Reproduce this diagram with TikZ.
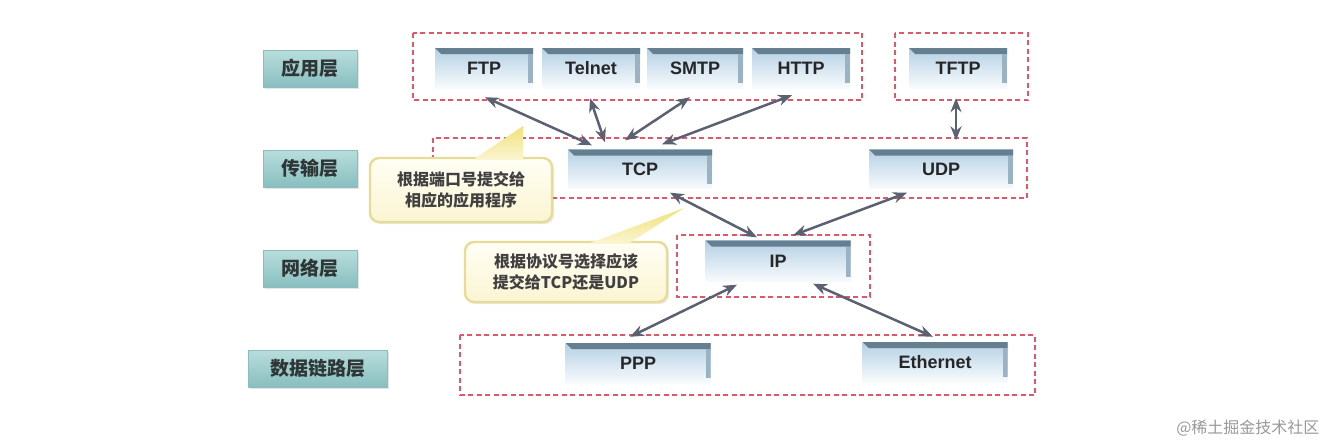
\documentclass[tikz,border=0pt]{standalone}
\usepackage{fontspec}
\setmainfont{Liberation Sans}
\newfontfamily\cjk{Noto Sans CJK SC}
\usetikzlibrary{arrows.meta,shadows,calc}
\definecolor{dashred}{HTML}{E0566A}
\definecolor{laytop}{HTML}{B8DEDC}
\definecolor{laybot}{HTML}{88BEBF}
\definecolor{layedge}{HTML}{8CBDBC}
\definecolor{laytext}{HTML}{2E3636}
\definecolor{prtop}{HTML}{B4D0E4}
\definecolor{prbot}{HTML}{F8FBFD}
\definecolor{bevel}{HTML}{667F90}
\definecolor{side}{HTML}{9AB2C4}
\definecolor{arrowc}{HTML}{5B6170}
\definecolor{cotop}{HTML}{FFFEF4}
\definecolor{cobot}{HTML}{FBF5D2}
\definecolor{coedge}{HTML}{E6DC96}
\definecolor{tailtop}{HTML}{F0E27A}
\definecolor{tailbot}{HTML}{FBF5D2}
\definecolor{cotext}{HTML}{404040}
\tikzset{
  layer/.style={inner sep=0, minimum height=37, top color=laytop, bottom color=laybot,
    draw=layedge, line width=0.8pt,
    font=\cjk\bfseries\fontsize{19}{22}\selectfont, text=laytext,
    drop shadow={opacity=0.2, shadow xshift=2pt, shadow yshift=-2pt}},
  group/.style={draw=dashred, line width=1.6pt, dash pattern=on 5pt off 3.5pt},
  proto/.style={inner sep=0, minimum height=40, top color=prtop, bottom color=prbot,
    font=\bfseries\fontsize{18}{20}\selectfont, text=black!85,
    path picture={
      \fill[bevel] (path picture bounding box.north west) -- (path picture bounding box.north east)
        -- ([yshift=-6pt]path picture bounding box.north east)
        -- ([xshift=6pt,yshift=-6pt]path picture bounding box.north west) -- cycle;
      \fill[side] ([xshift=-5pt,yshift=-6pt]path picture bounding box.north east)
        rectangle ([yshift=5pt]path picture bounding box.south east);
    }},
  link/.style={{Stealth[length=14pt,width=11pt]}-{Stealth[length=14pt,width=11pt]}, line width=2.5pt, draw=arrowc},
  callout/.style={rounded corners=9pt, draw=coedge, line width=2.4pt, top color=cotop, bottom color=cobot,
    font=\cjk\bfseries\fontsize{16}{21}\selectfont, text=cotext, align=center, inner sep=0,
    drop shadow={opacity=0.18, shadow xshift=2pt, shadow yshift=-2pt}},
  tail/.style={top color=tailtop, bottom color=tailbot, draw=none}
}
\begin{document}
\begin{tikzpicture}[x=1pt,y=-1pt]
\useasboundingbox (0,0) rectangle (1329,445);
\fill[white] (0,0) rectangle (1329,445);

% layer labels
\node[layer, minimum width=94] (l1) at (310,68.5) {应用层};
\node[layer, minimum width=94] (l2) at (310,168.5) {传输层};
\node[layer, minimum width=94] (l3) at (310,268.5) {网络层};
\node[layer, minimum width=139] (l4) at (317.5,368.5) {数据链路层};

% dashed groups
\draw[group] (413,33) rectangle (862,100);
\draw[group] (895,33) rectangle (1028,100);
\draw[group] (433,138) rectangle (1027,198);
\draw[group] (677,235) rectangle (870,297);
\draw[group] (460,335) rectangle (1035,395);

% protocol boxes
\node[proto, minimum width=98] (ftp) at (484,68) {FTP};
\node[proto, minimum width=98] (telnet) at (591,68) {Telnet};
\node[proto, minimum width=96] (smtp) at (695,68) {SMTP};
\node[proto, minimum width=98] (http) at (801,68) {HTTP};
\node[proto, minimum width=98] (tftp) at (958,68) {TFTP};
\node[proto, minimum width=144, minimum height=39] (tcp) at (640,169) {TCP};
\node[proto, minimum width=144, minimum height=39] (udp) at (941,169) {UDP};
\node[proto, minimum width=145, minimum height=41] (ip) at (778,261) {IP};
\node[proto, minimum width=145] (ppp) at (638,363) {PPP};
\node[proto, minimum width=145] (eth) at (935,362) {Ethernet};

% connectors
\draw[link] ($(ftp.south)+(1,9)$) -- ($(tcp.north)+(-48,-4)$);
\draw[link] ($(telnet.south)+(-1,10)$) -- ($(tcp.north)+(-35,-7)$);
\draw[link] ($(smtp.south)+(-5,9)$) -- ($(tcp.north)+(-15,-9)$);
\draw[link] ($(http.south)+(-9,7)$) -- ($(tcp.north)+(22,-5)$);
\draw[link] ($(tftp.south)+(-2,10)$) -- ($(udp.north)+(15,-9)$);
\draw[link] ($(tcp.south)+(30,4)$) -- ($(ip.north)+(-21,-3)$);
\draw[link] ($(udp.south)+(-34,4)$) -- ($(ip.north)+(15,-5)$);
\draw[link] ($(ip.south)+(-41,3)$) -- ($(ppp.north)+(-8,-6)$);
\draw[link] ($(ip.south)+(35,2)$) -- ($(eth.north)+(-2,-5)$);

% callouts
\node[callout, minimum width=182, minimum height=64] (c1) at (461,190) {根据端口号提交给\\相应的应用程序};
\coordinate (t1) at (523,126);
\path[tail] ($(c1.north)+(12,3)$) -- (t1) -- ($(c1.north)+(62,3)$) -- cycle;
\node[callout, minimum width=202, minimum height=60] (c2) at (566,272) {根据协议号选择应该\\提交给TCP还是UDP};
\coordinate (t2) at (684,208);
\path[tail] ($(c2.north)+(22,3)$) -- (t2) -- ($(c2.north)+(62,3)$) -- cycle;

% watermark
\node[font=\cjk\fontsize{16}{18}\selectfont, text=black!40, anchor=east] (wm) at (1323,428) {@稀土掘金技术社区};
\end{tikzpicture}
\end{document}
